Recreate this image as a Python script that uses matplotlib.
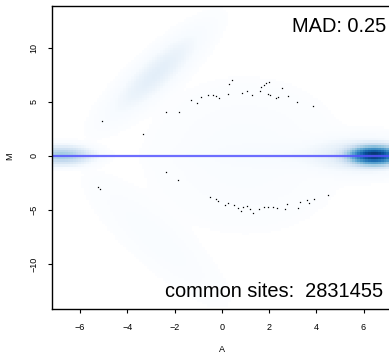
import numpy as np
import matplotlib
matplotlib.use("Agg")
import matplotlib.pyplot as plt
from matplotlib.colors import LinearSegmentedColormap

plt.rcParams['font.family'] = ['Liberation Sans', 'DejaVu Sans']

# outlying points (A, M) drawn as single dots
pts_A = [-5.08, -3.34, -2.36, -1.81, -1.31, -1.05, -0.88, -0.58, -0.37, -0.25, -0.12,
         0.26, 0.31, 0.43, 0.86, 1.07, 1.28, 1.62, 1.66, 1.79, 1.87, 2.00, 1.96, 2.04,
         2.30, 2.39, 2.55, 2.81, 3.19, 3.86,
         -2.36, -1.86, -5.25, -5.16, -0.50, -0.25, -0.16, 0.14, 0.26, 0.52, 0.69, 0.81,
         0.90, 1.07, 1.19, 1.32, 1.58, 1.79, 1.96, 2.17, 2.34, 2.68, 2.76, 3.23, 3.31,
         3.60, 3.69, 3.91, 4.50, -0.03]
pts_M = [3.21, 2.01, 4.05, 4.05, 5.16, 4.88, 5.44, 5.62, 5.62, 5.53, 5.34,
         5.71, 6.64, 7.01, 5.81, 5.99, 5.62, 5.99, 6.36, 6.55, 6.73, 6.82, 5.71, 5.62,
         5.34, 5.44, 6.27, 5.53, 4.97, 4.60,
         -1.52, -2.25, -2.89, -3.08, -3.82, -4.00, -4.19, -4.56, -4.38, -4.56, -4.84, -5.12,
         -4.75, -4.66, -4.94, -5.30, -4.94, -4.75, -4.75, -4.75, -4.84, -4.94, -4.47, -4.84, -4.28,
         -4.10, -4.38, -4.00, -3.64, -12.70]

# density blobs of the smoothed scatter: centre A, centre M, sd A, sd M, corr, peak
blob_A = [6.5, 6.0, -6.8, 3.5, -2.8, -2.8, 1.0]
blob_M = [0.0, 0.0, 0.0, 0.0, 7.6, -7.8, 0.0]
blob_sA = [0.45, 1.0, 0.5, 2.0, 0.85, 1.3, 1.8]
blob_sM = [0.35, 0.7, 0.35, 0.6, 1.7, 2.6, 3.0]
blob_r = [0.0, 0.0, 0.0, 0.0, 0.85, -0.85, 0.0]
blob_h = [1.0, 0.003, 0.035, 0.0002, 0.0015, 0.00004, 0.00004]

mad = 0.25
n_sites = 2831455

xlim = (-7.18, 7.08)
ylim = (-14.2, 13.9)

blues9 = ["#F7FBFF", "#DEEBF7", "#C6DBEF", "#9ECAE1", "#6BAED6",
          "#4292C6", "#2171B5", "#08519C", "#08306B"]
cmap = LinearSegmentedColormap.from_list("ramp", ["#FFFFFF"] + blues9)

gA = np.linspace(xlim[0], xlim[1], 128)
gM = np.linspace(ylim[0], ylim[1], 128)
AA, MM = np.meshgrid(gA, gM)
dens = np.zeros_like(AA)
for a, m, sa, sm, r, h in zip(blob_A, blob_M, blob_sA, blob_sM, blob_r, blob_h):
    u = (AA - a) / sa
    v = (MM - m) / sm
    q = (u * u - 2 * r * u * v + v * v) / (1 - r * r)
    dens += h * np.exp(-q / 2)
dens = dens / dens.max()
dens[dens < 2e-6] = 0
dens = dens ** 0.25

fig = plt.figure(figsize=(3.89, 3.55), dpi=100)
ax = fig.add_axes([0.1345, 0.1287, 1 - 0.1345, 0.855])
ax.imshow(dens, cmap=cmap, origin='lower', extent=(xlim[0], xlim[1], ylim[0], ylim[1]),
          aspect='auto', interpolation='nearest', vmin=0, vmax=1)
ax.plot(pts_A, pts_M, 's', color='black', markersize=0.9, markeredgewidth=0)
ax.axhline(0, color='#5555ff', lw=1.6, alpha=0.85)

ax.set_xlim(xlim)
ax.set_ylim(ylim)
ax.spines['right'].set_visible(False)
for s in ['left', 'top', 'bottom']:
    ax.spines[s].set_linewidth(1.0)
ax.set_xticks([-6, -4, -2, 0, 2, 4, 6])
ax.set_yticks([-10, -5, 0, 5, 10])
ax.tick_params(length=3, width=0.8, labelsize=6.5, pad=7)
plt.setp(ax.get_yticklabels(), rotation=90, va='center')

fig.text(10 / 389, 1 - 156 / 355, 'M', rotation=90, ha='center', va='center', fontsize=6.5)
fig.text(222 / 389, 1 - 350 / 355, 'A', ha='center', va='center', fontsize=6.5)

fig.text(386 / 389, 1 - 31.7 / 355, 'MAD: %.2f' % mad, ha='right', va='baseline', fontsize=14.4)
fig.text(383 / 389, 1 - 297 / 355, 'common sites:  %d' % n_sites, ha='right', va='baseline',
         fontsize=14.4)

fig.savefig('out.png', dpi=100)
